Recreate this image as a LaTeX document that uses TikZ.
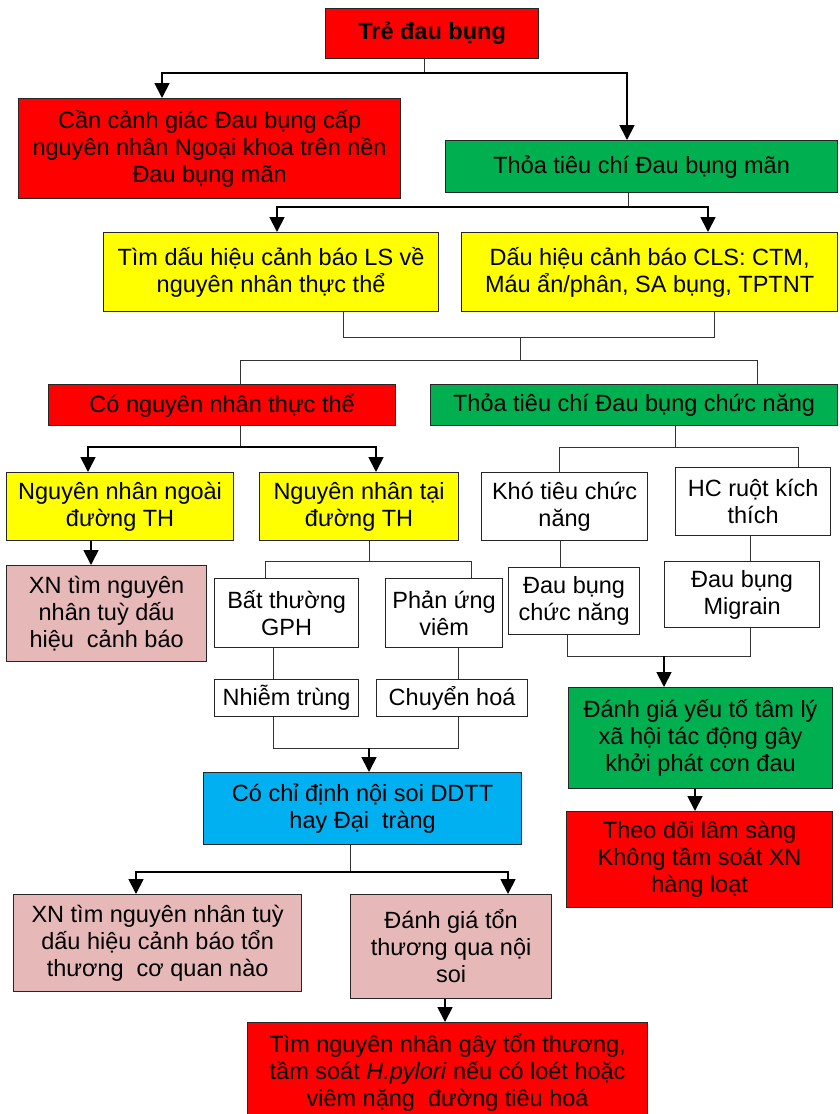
\documentclass[tikz,border=0pt]{standalone}
\usepackage{fontspec}
\setmainfont{Liberation Sans}
\usepackage{tikz}
\usetikzlibrary{arrows.meta}

\definecolor{boxred}{HTML}{FF0000}
\definecolor{boxgreen}{HTML}{00B050}
\definecolor{boxyellow}{HTML}{FFFF00}
\definecolor{boxpink}{HTML}{E6B9B8}
\definecolor{boxblue}{HTML}{00B0F0}

\newcommand\boxfont{\fontsize{23.5}{27}\selectfont}

\tikzset{
  box/.style={draw=black!85, line width=1.2pt, inner sep=0pt, align=center,
    anchor=north west, font=\boxfont},
  redbox/.style={box, fill=boxred},
  greenbox/.style={box, fill=boxgreen},
  yellowbox/.style={box, fill=boxyellow},
  pinkbox/.style={box, fill=boxpink},
  bluebox/.style={box, fill=boxblue},
  whitebox/.style={box, fill=white},
  link/.style={draw=black!80, line width=1pt},
  arr/.style={draw=black, line width=1.8pt, -{Triangle[width=15pt,length=15pt]}},
}

\begin{document}
\begin{tikzpicture}[x=1pt,y=-1pt]
		\useasboundingbox (0,0) rectangle (839,1114);

		\node[redbox, minimum width=213, minimum height=50] (tre) at (325,8) {\textbf{Trẻ đau bụng}};
		\node[redbox, minimum width=382, minimum height=100] (acute) at (18,98) {Cần cảnh giác Đau bụng cấp\\nguyên nhân Ngoại khoa trên nền\\Đau bụng mãn};
		\node[greenbox, minimum width=392, minimum height=52] (chronic) at (445,140) {Thỏa tiêu chí Đau bụng mãn};
		\node[yellowbox, minimum width=335, minimum height=79] (warnls) at (103,232) {Tìm dấu hiệu cảnh báo LS về\\nguyên nhân thực thể};
		\node[yellowbox, minimum width=376, minimum height=79] (warncls) at (461,232) {Dấu hiệu cảnh báo CLS: CTM,\\Máu ẩn/phân, SA bụng, TPTNT};
		\node[redbox, minimum width=347, minimum height=41] (organic) at (48,384) {Có nguyên nhân thực thể};
		\node[greenbox, minimum width=407, minimum height=41] (functional) at (430,384) {Thỏa tiêu chí Đau bụng chức năng};

		\node[yellowbox, minimum width=227, minimum height=68] (extra) at (6,472) {Nguyên nhân ngoài\\đường TH};
		\node[yellowbox, minimum width=199, minimum height=68] (intra) at (259,472) {Nguyên nhân tại\\đường TH};
		\node[whitebox, minimum width=166, minimum height=68] (dyspep) at (481,472) {Khó tiêu chức\\năng};
		\node[whitebox, minimum width=155, minimum height=68] (ibs) at (675,467) {HC ruột kích\\thích};

		\node[pinkbox, minimum width=200, minimum height=96] (xnwarn) at (6,565) {XN tìm nguyên\\nhân tuỳ dấu\\hiệu~ cảnh báo};
		\node[whitebox, minimum width=144, minimum height=69] (gph) at (214,578) {Bất thường\\GPH};
		\node[whitebox, minimum width=117, minimum height=69] (inflam) at (385,578) {Phản ứng\\viêm};
		\node[whitebox, minimum width=131, minimum height=67] (fap) at (508,567) {Đau bụng\\chức năng};
		\node[whitebox, minimum width=155, minimum height=66] (migr) at (664,561) {Đau bụng\\Migrain};

		\node[whitebox, minimum width=144, minimum height=37] (infect) at (214,679) {Nhiễm trùng};
		\node[whitebox, minimum width=151, minimum height=37] (metab) at (376,679) {Chuyển hoá};
		\node[greenbox, minimum width=264, minimum height=101] (psych) at (568,687) {Đánh giá yếu tố tâm lý\\xã hội tác động gây\\khởi phát cơn đau};

		\node[bluebox, minimum width=318, minimum height=72] (endo) at (203,772) {Có chỉ định nội soi DDTT\\hay Đại~ tràng};
		\node[redbox, minimum width=266, minimum height=96] (follow) at (566,811) {Theo dõi lâm sàng\\Không tầm soát XN\\hàng loạt};
		\node[pinkbox, minimum width=288, minimum height=97] (xnorgan) at (13,894) {XN tìm nguyên nhân tuỳ\\dấu hiệu cảnh báo tổn\\thương~ cơ quan nào};
		\node[pinkbox, minimum width=201, minimum height=104] (lesion) at (350,894) {Đánh giá tổn\\thương qua nội\\soi};
		\node[redbox, minimum width=400, minimum height=100] (cause) at (247,1022) {Tìm nguyên nhân gây tổn thương,\\tầm soát \textit{H.pylori} nếu có loét hoặc\\viêm nặng~ đường tiêu hoá};

		% junction points
		\coordinate (j1) at (424,73);
		\coordinate (a1) at (162,73);
		\coordinate (a2) at (627,73);
		\coordinate (j2) at (628,207);
		\coordinate (b1) at (277,207);
		\coordinate (b2) at (708,207);
		\coordinate (c1) at (343,337);
		\coordinate (c2) at (714,337);
		\coordinate (j3) at (520,337);
		\coordinate (j4) at (520,360);
		\coordinate (d1) at (240,360);
		\coordinate (d2) at (757,360);
		\coordinate (j5) at (240,447);
		\coordinate (e1) at (88,447);
		\coordinate (e2) at (376,447);
		\coordinate (j6) at (675,447);
		\coordinate (g1) at (559,447);
		\coordinate (g2) at (798,447);
		\coordinate (f1) at (91,550);
		\coordinate (j7) at (369,561);
		\coordinate (h1) at (265,561);
		\coordinate (h2) at (471,561);
		\coordinate (k1) at (560,560);
		\coordinate (k2) at (750,550);
		\coordinate (m1) at (567,656);
		\coordinate (m2) at (750,656);
		\coordinate (j8) at (664,656);
		\coordinate (n1) at (273,748);
		\coordinate (n2) at (458,748);
		\coordinate (j9) at (369,748);
		\coordinate (p1) at (695,800);
		\coordinate (j10) at (350,872);
		\coordinate (q1) at (136,872);
		\coordinate (q2) at (508,872);
		\coordinate (r1) at (445,1010);

		% top level
		\draw[link] (j1 |- tre.south) -- (j1);
		\draw[arr] (j1) -| (a1 |- acute.north);
		\draw[arr] (j1) -| (a2 |- chronic.north);
		\draw[link] (j2 |- chronic.south) -- (j2);
		\draw[arr] (j2) -| (b1 |- warnls.north);
		\draw[arr] (j2) -| (b2 |- warncls.north);

		% merge of the warning signs
		\draw[link] (c1 |- warnls.south) -- (c1) -- (c2) -- (c2 |- warncls.south);
		\draw[link] (j3) -- (j4);
		\draw[link] (d1 |- organic.north) -- (d1) -- (d2) -- (d2 |- functional.north);

		% organic branch
		\draw[link] (j5 |- organic.south) -- (j5);
		\draw[arr] (j5) -| (e1 |- extra.north);
		\draw[arr] (j5) -| (e2 |- intra.north);
		\draw[arr] (f1 |- extra.south) -- (f1 |- xnwarn.north);
		\draw[link] (j7 |- intra.south) -- (j7);
		\draw[link] (h1 |- gph.north) -- (h1) -- (h2) -- (h2 |- inflam.north);
		\draw[link] (n1 |- gph.south) -- (n1 |- infect.north);
		\draw[link] (n2 |- inflam.south) -- (n2 |- metab.north);
		\draw[link] (n1 |- infect.south) -- (n1) -- (n2) -- (n2 |- metab.south);
		\draw[arr] (j9) -- (j9 |- endo.north);
		\draw[link] (j10 |- endo.south) -- (j10);
		\draw[arr] (j10) -| (q1 |- xnorgan.north);
		\draw[arr] (j10) -| (q2 |- lesion.north);
		\draw[arr] (r1 |- lesion.south) -- (r1 |- cause.north);

		% functional branch
		\draw[link] (j6 |- functional.south) -- (j6);
		\draw[link] (g1 |- dyspep.north) -- (g1) -- (g2) -- (g2 |- ibs.north);
		\draw[link] (k1 |- dyspep.south) -- (k1 |- fap.north);
		\draw[link] (k2 |- ibs.south) -- (k2 |- migr.north);
		\draw[link] (m1 |- fap.south) -- (m1) -- (m2) -- (m2 |- migr.south);
		\draw[arr] (j8) -- (j8 |- psych.north);
		\draw[arr] (p1 |- psych.south) -- (p1 |- follow.north);
\end{tikzpicture}
\end{document}
